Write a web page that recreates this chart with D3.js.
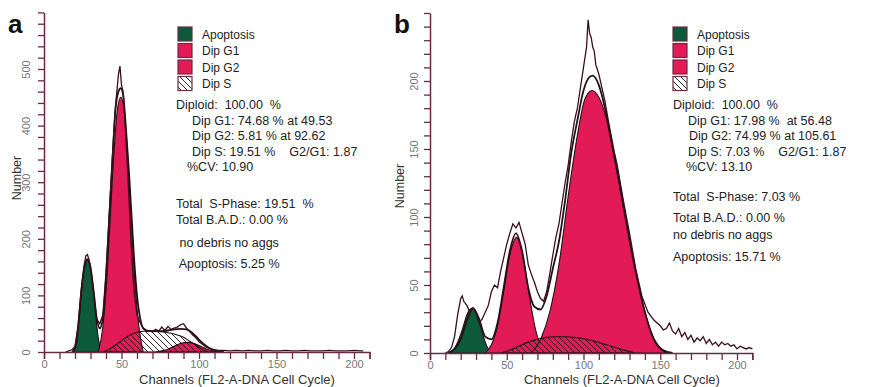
<!DOCTYPE html>
<html>
<head>
<meta charset="utf-8">
<script src="https://cdn.jsdelivr.net/npm/d3@7/dist/d3.min.js"></script>
<style>
  body { margin: 0; background: #fff; }
  svg { display: block; font-family: "Liberation Sans", Arial, sans-serif; }
  .info text { white-space: pre; }
</style>
</head>
<body>
<div id="chart"></div>
<script>
// ---- panel a data ----
const aApopCh = [19, 21, 23, 25, 27, 28, 29, 31, 33, 35, 37];
const aApopVal = [0, 15, 70, 130, 158, 162, 158, 130, 75, 25, 0];
const aG1Ch = [35, 38, 41, 44, 47, 49.5, 52, 55, 58, 61, 64];
const aG1Val = [0, 45, 150, 300, 420, 450, 420, 300, 150, 50, 0];
const aG2Ch = [72, 76, 80, 84, 88, 92.6, 97, 101, 105, 109, 113];
const aG2Val = [0, 2, 5, 10, 15, 17, 15, 10, 5, 2, 0];
const aSCh = [38, 42, 46, 50, 54, 58, 62, 66, 70, 74, 78, 82, 86, 90, 94, 98, 102, 106];
const aSVal = [0, 5, 12, 20, 28, 33, 36, 37, 37, 36, 35, 33, 30, 26, 19, 12, 5, 0];
const aFitCh = [18, 20, 22, 24, 26, 28, 30, 32, 34, 36, 38, 40, 42, 44, 46, 48, 49.5, 51, 53, 55, 58, 60, 62, 64, 68, 72, 76, 80, 84, 88, 92, 96, 100, 104, 108, 112, 116];
const aFitVal = [0, 8, 45, 105, 150, 164, 150, 108, 60, 42, 60, 130, 230, 330, 425, 460, 466, 455, 390, 310, 170, 100, 60, 42, 37, 37, 37, 38, 40, 41, 40, 33, 22, 12, 5, 2, 0];
const aRawCh = [14, 16, 18, 20, 22, 24, 26, 27, 28, 29, 30, 32, 34, 36, 38, 40, 42, 44, 46, 48, 49, 50, 51, 52, 54, 56, 58, 60, 62, 64, 66, 68, 70, 72, 74, 76, 78, 80, 82, 84, 86, 88, 90, 92, 94, 96, 98, 100, 102, 104, 106, 108, 110, 112, 116, 120, 124, 128, 132, 136, 140, 144, 148, 152, 156, 160, 164, 168, 172, 176, 180, 184, 188, 192, 196, 200, 204, 206];
const aRawVal = [0, 2, 4, 10, 45, 110, 155, 170, 172, 164, 148, 105, 58, 50, 66, 140, 240, 340, 430, 490, 505, 472, 460, 420, 320, 200, 110, 65, 52, 42, 36, 38, 35, 40, 37, 44, 38, 45, 40, 42, 44, 48, 50, 42, 36, 30, 25, 18, 14, 10, 7, 5, 4, 3, 3, 2, 3, 2, 3, 2, 2, 3, 2, 2, 3, 2, 2, 3, 2, 2, 2, 3, 2, 2, 2, 3, 2, 2];

// ---- panel b data ----
const bApopCh = [12, 15, 18, 21, 24, 27.5, 31, 34, 37, 40];
const bApopVal = [0, 2, 8, 17, 28, 33, 27, 15, 5, 0];
const bG1Ch = [36, 40, 44, 48, 52, 56.5, 61, 65, 69, 73, 77];
const bG1Val = [0, 6, 20, 45, 72, 85, 68, 40, 16, 4, 0];
const bG2Ch = [66, 72, 78, 84, 90, 96, 101, 105.6, 110, 115, 121, 127, 133, 139, 145, 151, 156];
const bG2Val = [0, 10, 30, 65, 115, 160, 187, 193, 188, 172, 138, 102, 66, 35, 12, 2, 0];
const bSCh = [46, 52, 58, 64, 70, 76, 82, 88, 94, 100, 106, 112, 118, 124, 130, 134];
const bSVal = [0, 2, 5, 8, 10, 11.5, 12, 12, 11.5, 10.5, 9, 7, 5, 3, 1, 0];
const bFitCh = [12, 16, 20, 24, 28, 32, 36, 40, 44, 48, 52, 56, 60, 64, 68, 72, 76, 80, 84, 88, 92, 96, 100, 104, 106, 110, 114, 118, 122, 126, 130, 134, 140, 146, 152, 158];
const bFitVal = [0, 3, 10, 24, 33, 25, 12, 10, 22, 48, 75, 88, 75, 48, 34, 32, 42, 62, 82, 112, 147, 171, 193, 203, 204, 197, 180, 157, 134, 108, 83, 60, 30, 10, 2, 0];
const bRawCh = [10, 12, 14, 16, 18, 20, 21, 22, 24, 26, 28, 30, 32, 34, 36, 38, 40, 42, 44, 46, 48, 50, 52, 54, 56, 58, 60, 62, 64, 66, 68, 70, 72, 74, 76, 78, 80, 82, 84, 86, 88, 90, 92, 94, 96, 98, 100, 102, 103, 104, 105, 106, 107, 108, 110, 112, 114, 116, 118, 120, 122, 124, 126, 128, 130, 134, 138, 142, 146, 150, 152, 154, 156, 158, 160, 162, 164, 166, 168, 170, 172, 174, 176, 178, 180, 182, 184, 186, 188, 190, 192, 194, 196, 198, 200, 202, 204, 206, 208, 210];
const bRawVal = [0, 1, 4, 12, 28, 40, 42, 38, 35, 30, 33, 30, 22, 25, 30, 35, 45, 50, 48, 60, 70, 80, 88, 95, 92, 96, 88, 80, 65, 58, 52, 45, 40, 38, 45, 58, 72, 85, 95, 110, 125, 138, 155, 170, 180, 195, 210, 225, 245, 235, 232, 225, 222, 212, 205, 195, 185, 172, 160, 148, 138, 125, 112, 100, 88, 62, 42, 30, 24, 20, 17, 18, 22, 16, 14, 18, 12, 15, 10, 13, 8, 11, 9, 12, 7, 10, 6, 8, 5, 8, 6, 7, 5, 6, 3, 5, 4, 3, 4, 3];

// ---- axes / labels ----
const chDomain = [0, 210];
const chTicks = d3.range(0, 211, 10);
const chLabels = [0, 50, 100, 150, 200];
const aYMax = 600, aYStep = 20, aYLabels = [0, 100, 200, 300, 400, 500];
const bYMax = 250, bYStep = 10, bYLabels = [0, 50, 100, 150, 200];
const legendNames = ["Apoptosis", "Dip G1", "Dip G2", "Dip S"];
const aInfo = [
  ["Diploid:  100.00  %", 0],
  ["Dip G1: 74.68 % at 49.53", 16],
  ["Dip G2: 5.81 % at 92.62", 16],
  ["Dip S: 19.51 %    G2/G1: 1.87", 16],
  ["%CV: 10.90", 11]
];
const aInfo2 = ["Total  S-Phase: 19.51  %", "Total B.A.D.: 0.00 %", " no debris no aggs", " Apoptosis: 5.25 %"];
const bInfo = [
  ["Diploid:  100.00  %", 0],
  ["Dip G1: 17.98 %  at 56.48", 15],
  ["Dip G2: 74.99 % at 105.61", 16],
  ["Dip S: 7.03 %    G2/G1: 1.87", 15],
  ["%CV: 13.10", 13]
];
const bInfo2 = ["Total  S-Phase: 7.03 %", "Total B.A.D.: 0.00 %", "no debris no aggs", "Apoptosis: 15.71 %"];

const green = "#0c5a3a", pink = "#e21a55", ink = "#241016", axisCol = "#6a2c44", tickText = "#777";

const svg = d3.select("#chart").append("svg")
  .attr("width", 873).attr("height", 387);
svg.append("rect").attr("width", 873).attr("height", 387).attr("fill", "#fff");

const defs = svg.append("defs");
defs.append("pattern").attr("id", "hatch").attr("patternUnits", "userSpaceOnUse")
  .attr("width", 6).attr("height", 6)
  .append("path").attr("d", "M-1,-1 L7,7 M-1,5 L1,7 M5,-1 L7,1")
  .attr("stroke", ink).attr("stroke-width", 0.9);

function zip(ch, v) { return ch.map((c, i) => [c, v[i]]); }

function panel(p) {
  const g = svg.append("g");
  const x = d3.scaleLinear().domain(chDomain).range(p.xr);
  const y = d3.scaleLinear().domain([0, p.yMax]).range(p.yr);

  const area = d3.area().x(d => x(d[0])).y0(y(0)).y1(d => y(d[1])).curve(d3.curveMonotoneX);
  const line = d3.line().x(d => x(d[0])).y(d => y(d[1])).curve(d3.curveMonotoneX);
  const rawLine = d3.line().x(d => x(d[0])).y(d => y(d[1]));

  const comps = [
    { d: zip(p.apopCh, p.apopVal), fill: green },
    { d: zip(p.g1Ch, p.g1Val), fill: pink },
    { d: zip(p.g2Ch, p.g2Val), fill: pink },
    { d: zip(p.sCh, p.sVal), fill: "url(#hatch)" }
  ];
  g.selectAll("path.comp").data(comps).enter().append("path")
    .attr("class", "comp")
    .attr("d", c => area(c.d))
    .attr("fill", c => c.fill)
    .attr("stroke", ink).attr("stroke-width", 1.1);

  g.append("path").attr("d", line(zip(p.fitCh, p.fitVal)))
    .attr("fill", "none").attr("stroke", ink).attr("stroke-width", 1.8);
  g.append("path").attr("d", rawLine(zip(p.rawCh, p.rawVal)))
    .attr("fill", "none").attr("stroke", "#3a0f1e").attr("stroke-width", 1.3);

  // x axis
  const xa = g.append("g").attr("transform", `translate(0,${y(0)})`)
    .call(d3.axisBottom(x).tickValues(chTicks).tickSize(7).tickFormat(d => chLabels.includes(d) ? d : ""));
  xa.select(".domain").attr("stroke", axisCol).attr("stroke-width", 1.5);
  xa.selectAll(".tick line").attr("stroke", axisCol).attr("stroke-width", 1.3);
  xa.selectAll(".tick text").attr("fill", tickText).attr("font-size", 11).attr("dy", "0.5em");

  // y axis
  const ya = g.append("g").attr("transform", `translate(${x(0)},0)`)
    .call(d3.axisLeft(y).tickValues(d3.range(0, p.yMax + 1, p.yStep)).tickSize(6).tickSizeOuter(0)
      .tickFormat(d => p.yLabels.includes(d) ? d : ""));
  ya.select(".domain").attr("stroke", axisCol).attr("stroke-width", 1.5);
  ya.selectAll(".tick line").attr("stroke", axisCol).attr("stroke-width", 1.3);
  ya.selectAll(".tick text").attr("fill", tickText).attr("font-size", 11)
    .attr("transform", "rotate(-90)").attr("x", 0).attr("y", -p.labOff)
    .attr("text-anchor", "middle").attr("dy", "0");

  g.append("text").attr("transform", `translate(${p.numX},${p.numY}) rotate(-90)`)
    .attr("text-anchor", "middle").attr("font-size", 12.5).attr("fill", "#333").text("Number");
  g.append("text").attr("x", p.titleX).attr("y", 384).attr("text-anchor", "middle")
    .attr("font-size", 13).attr("fill", "#333").text("Channels (FL2-A-DNA Cell Cycle)");
  g.append("text").attr("x", p.letterX).attr("y", 33).attr("font-size", 26)
    .attr("font-weight", "bold").attr("fill", "#111").text(p.letter);

  // legend
  const fills = [green, pink, pink, "url(#hatch)"];
  const lg = g.append("g").attr("transform", `translate(${p.legX},27)`);
  legendNames.forEach((n, i) => {
    lg.append("rect").attr("x", 0).attr("y", i * 16.5).attr("width", 14).attr("height", 14)
      .attr("fill", fills[i]).attr("stroke", axisCol).attr("stroke-width", 1.2);
    lg.append("text").attr("x", 24).attr("y", i * 16.5 + 11.5).attr("font-size", 12).attr("fill", "#222").text(n);
  });

  // info text
  const info = g.append("g").attr("class", "info");
  p.info.forEach((r, i) => {
    info.append("text").attr("x", p.infoX + r[1]).attr("y", 109 + i * 15.6)
      .attr("font-size", 12.5).attr("fill", "#222").text(r[0]);
  });
  p.info2.forEach((t, i) => {
    info.append("text").attr("x", p.infoX).attr("y", p.info2Y[i])
      .attr("font-size", 12.5).attr("fill", "#222").text(t);
  });
}

panel({
  xr: [44, 44 + 210 * 1.55], yr: [352, 352 - 600 * 0.566], yMax: aYMax, yStep: aYStep, yLabels: aYLabels,
  apopCh: aApopCh, apopVal: aApopVal, g1Ch: aG1Ch, g1Val: aG1Val, g2Ch: aG2Ch, g2Val: aG2Val,
  sCh: aSCh, sVal: aSVal, fitCh: aFitCh, fitVal: aFitVal, rawCh: aRawCh, rawVal: aRawVal,
  labOff: 14, numX: 21, numY: 178, titleX: 237, letter: "a", letterX: 8, legX: 178,
  info: aInfo, info2: aInfo2, infoX: 176, info2Y: [208, 224, 247, 268]
});
panel({
  xr: [430, 430 + 210 * 1.535], yr: [353, 353 - 250 * 1.36], yMax: bYMax, yStep: bYStep, yLabels: bYLabels,
  apopCh: bApopCh, apopVal: bApopVal, g1Ch: bG1Ch, g1Val: bG1Val, g2Ch: bG2Ch, g2Val: bG2Val,
  sCh: bSCh, sVal: bSVal, fitCh: bFitCh, fitVal: bFitVal, rawCh: bRawCh, rawVal: bRawVal,
  labOff: 12, numX: 404, numY: 186, titleX: 622, letter: "b", letterX: 394, legX: 673,
  info: bInfo, info2: bInfo2, infoX: 673, info2Y: [201, 222, 239, 261]
});
</script>
</body>
</html>
